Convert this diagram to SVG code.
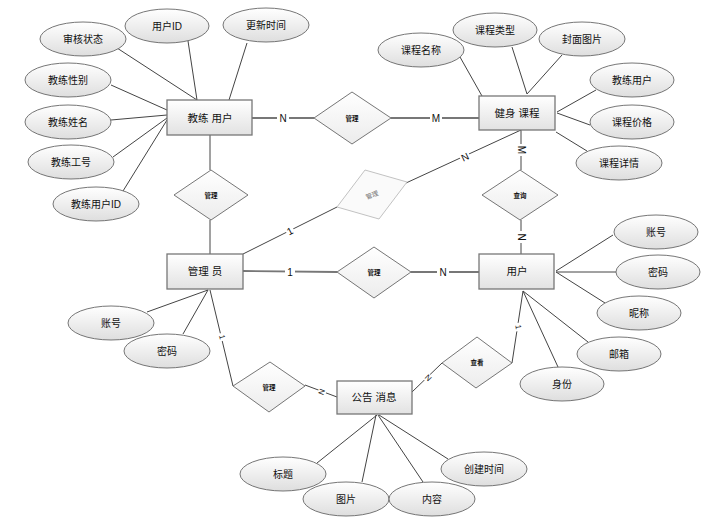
<svg xmlns="http://www.w3.org/2000/svg" width="716" height="519" viewBox="0 0 716 519">
<defs>
<linearGradient id="gE" x1="0" y1="0" x2="0" y2="1"><stop offset="0" stop-color="#ffffff"/><stop offset="1" stop-color="#dedede"/></linearGradient>
<linearGradient id="gR" x1="0" y1="0" x2="0" y2="1"><stop offset="0" stop-color="#ffffff"/><stop offset="1" stop-color="#e2e2e2"/></linearGradient>
<linearGradient id="gD" x1="0" y1="0" x2="0" y2="1"><stop offset="0" stop-color="#ffffff"/><stop offset="1" stop-color="#ececec"/></linearGradient>
</defs>
<style>
.t{font-family:"Liberation Sans","Noto Sans CJK SC",sans-serif;fill:#111;text-anchor:middle;dominant-baseline:central}
.e ellipse{fill:url(#gE);stroke:#666;stroke-width:0.9}
.e text{font-size:10px}
.r rect{fill:url(#gR);stroke:#777;stroke-width:1.3}
.r text{font-size:10.5px}
.d polygon{fill:url(#gD);stroke:#666;stroke-width:0.9}
.d text{font-size:6.5px;font-weight:bold}
.ln line{stroke:#444;stroke-width:1;fill:none}
.ln .h{stroke:#777;stroke-width:1.8}
.lb{font-family:"Liberation Sans",sans-serif;font-size:10px;fill:#111;text-anchor:middle;dominant-baseline:central}
.lbs{font-family:"Liberation Sans",sans-serif;font-size:8px;fill:#222;text-anchor:middle;dominant-baseline:central}
.bg{fill:#fff}
</style>
<g id="connectors" class="ln">
<line x1="117" y1="48" x2="197" y2="100"/>
<line x1="188" y1="41" x2="197" y2="100"/>
<line x1="247" y1="43" x2="229" y2="100"/>
<line x1="111" y1="85" x2="167" y2="110"/>
<line x1="111" y1="120" x2="167" y2="115"/>
<line x1="113" y1="157" x2="167" y2="118"/>
<line x1="123" y1="191" x2="167" y2="120"/>
<line class="h" x1="252" y1="118" x2="314" y2="118"/>
<line class="h" x1="391" y1="118" x2="479" y2="118"/>
<line x1="210" y1="135" x2="210" y2="170"/>
<line x1="210" y1="220" x2="210" y2="254"/>
<line x1="460" y1="57" x2="482" y2="96"/>
<line x1="512" y1="47" x2="527" y2="94"/>
<line x1="562" y1="55" x2="527" y2="94"/>
<line x1="596" y1="90" x2="557" y2="112"/>
<line x1="590" y1="125" x2="557" y2="113"/>
<line x1="587" y1="151" x2="556" y2="132"/>
<line x1="521" y1="130" x2="521" y2="170"/>
<line x1="521" y1="220" x2="521" y2="254"/>
<line x1="521" y1="130" x2="406" y2="183"/>
<line x1="243" y1="254" x2="337" y2="207"/>
<line class="h" x1="243" y1="271" x2="337" y2="272"/>
<line class="h" x1="411" y1="272" x2="479" y2="272"/>
<line x1="147" y1="312" x2="208" y2="290"/>
<line x1="183" y1="334" x2="208" y2="290"/>
<line x1="210" y1="290" x2="233" y2="386"/>
<line x1="305" y1="385" x2="337" y2="397"/>
<line x1="613" y1="235" x2="556" y2="271"/>
<line x1="616" y1="272" x2="556" y2="272"/>
<line x1="605" y1="303" x2="556" y2="272"/>
<line x1="588" y1="342" x2="523" y2="291"/>
<line x1="558" y1="367" x2="523" y2="291"/>
<line x1="523" y1="291" x2="512" y2="363"/>
<line x1="442" y1="363" x2="412" y2="392"/>
<line x1="317" y1="463" x2="377" y2="415"/>
<line x1="362" y1="482" x2="376" y2="415"/>
<line x1="423" y1="482" x2="378" y2="415"/>
<line x1="448" y1="459" x2="379" y2="415"/>
</g>
<g id="labels">
<rect class="bg" x="277" y="112" width="12" height="12"/>
<text class="lb" x="283" y="118">N</text>
<rect class="bg" x="430" y="112" width="12" height="12"/>
<text class="lb" x="436" y="118">M</text>
<rect class="bg" x="515" y="144" width="12" height="12"/>
<text class="lb" x="521" y="150" transform="rotate(90 521 150)">M</text>
<rect class="bg" x="515" y="231" width="12" height="12"/>
<text class="lb" x="521" y="237" transform="rotate(90 521 237)">N</text>
<rect class="bg" x="460" y="152" width="10" height="10" transform="rotate(-25 465 157)"/>
<text class="lb" x="465" y="157" transform="rotate(-25 465 157)">N</text>
<rect class="bg" x="286" y="226" width="8" height="10" transform="rotate(-27 290 231)"/>
<text class="lb" x="290" y="231" transform="rotate(-27 290 231)">1</text>
<rect class="bg" x="285" y="266" width="10" height="12"/>
<text class="lb" x="290" y="272">1</text>
<rect class="bg" x="437" y="266" width="12" height="12"/>
<text class="lb" x="443" y="272">N</text>
<rect class="bg" x="218" y="333" width="8" height="8" transform="rotate(76 222 337)"/>
<text class="lbs" x="222" y="337" transform="rotate(76 222 337)">1</text>
<rect class="bg" x="318" y="388" width="8" height="8" transform="rotate(-70 322 392)"/>
<text class="lbs" x="322" y="392" transform="rotate(-70 322 392)">N</text>
<rect class="bg" x="514" y="323" width="8" height="8" transform="rotate(80 518 327)"/>
<text class="lbs" x="518" y="327" transform="rotate(80 518 327)">1</text>
<rect class="bg" x="424" y="374" width="8" height="8" transform="rotate(45 428 378)"/>
<text class="lbs" x="428" y="378" transform="rotate(45 428 378)">N</text>
</g>
<g id="coach" class="r"><rect x="167" y="100" width="85" height="35"/><text class="t" x="210" y="118">教练 用户</text></g>
<g id="course" class="r"><rect x="479" y="96" width="76" height="34"/><text class="t" x="517" y="113">健身 课程</text></g>
<g id="admin" class="r"><rect x="167" y="254" width="76" height="35"/><text class="t" x="205" y="271">管理 员</text></g>
<g id="user" class="r"><rect x="479" y="254" width="75" height="35"/><text class="t" x="517" y="271">用户</text></g>
<g id="notice" class="r"><rect x="337" y="381" width="75" height="33"/><text class="t" x="374" y="397">公告 消息</text></g>
<g id="rel-manage-top" class="d"><polygon points="352,92 391,118 352,144 314,118"/><text class="t" x="352" y="118">管理</text></g>
<g id="rel-manage-left" class="d"><polygon points="211,170 248,195 211,220 174,195"/><text class="t" x="211" y="195">管理</text></g>
<g id="rel-query" class="d"><polygon points="520,170 558,195 520,220 482,195"/><text class="t" x="520" y="195">查询</text></g>
<g id="rel-manage-gray" class="d"><polygon points="365,170 407,182 379,219 337,207" style="stroke:#bbb;fill:#fafafa"/><text class="t" x="372" y="195" transform="rotate(-20 372 195)" style="fill:#777;font-weight:normal">管理</text></g>
<g id="rel-manage-mid" class="d"><polygon points="374,247 411,272 374,298 337,272"/><text class="t" x="374" y="272">管理</text></g>
<g id="rel-view" class="d"><polygon points="477,337 512,363 476,388 442,363"/><text class="t" x="477" y="362">查看</text></g>
<g id="rel-manage-bottom" class="d"><polygon points="270,362 305,386 269,412 233,386"/><text class="t" x="269" y="387">管理</text></g>
<g id="a-shenhe" class="e"><ellipse cx="83" cy="39" rx="43" ry="17"/><text class="t" x="83" y="39">审核状态</text></g>
<g id="a-yonghuid" class="e"><ellipse cx="167" cy="26" rx="42" ry="17"/><text class="t" x="167" y="26">用户ID</text></g>
<g id="a-gengxin" class="e"><ellipse cx="266" cy="25" rx="43" ry="17"/><text class="t" x="266" y="25">更新时间</text></g>
<g id="a-xingbie" class="e"><ellipse cx="68" cy="80" rx="43" ry="17"/><text class="t" x="68" y="80">教练性别</text></g>
<g id="a-xingming" class="e"><ellipse cx="68" cy="122" rx="43" ry="17"/><text class="t" x="68" y="122">教练姓名</text></g>
<g id="a-gonghao" class="e"><ellipse cx="71" cy="162" rx="43" ry="17"/><text class="t" x="71" y="162">教练工号</text></g>
<g id="a-coachid" class="e"><ellipse cx="96" cy="204" rx="43" ry="17"/><text class="t" x="96" y="204">教练用户ID</text></g>
<g id="a-kcmc" class="e"><ellipse cx="421" cy="50" rx="43" ry="17"/><text class="t" x="421" y="50">课程名称</text></g>
<g id="a-kclx" class="e"><ellipse cx="495" cy="30" rx="42" ry="17"/><text class="t" x="495" y="30">课程类型</text></g>
<g id="a-fmtp" class="e"><ellipse cx="582" cy="39" rx="43" ry="17"/><text class="t" x="582" y="39">封面图片</text></g>
<g id="a-jlyh" class="e"><ellipse cx="632" cy="80" rx="42" ry="17"/><text class="t" x="632" y="80">教练用户</text></g>
<g id="a-kcjg" class="e"><ellipse cx="632" cy="122" rx="42" ry="17"/><text class="t" x="632" y="122">课程价格</text></g>
<g id="a-kcxq" class="e"><ellipse cx="619" cy="163" rx="43" ry="17"/><text class="t" x="619" y="163">课程详情</text></g>
<g id="a-adm-zh" class="e"><ellipse cx="111" cy="323" rx="43" ry="17"/><text class="t" x="111" y="323">账号</text></g>
<g id="a-adm-mm" class="e"><ellipse cx="167" cy="351" rx="43" ry="17"/><text class="t" x="167" y="351">密码</text></g>
<g id="a-u-zh" class="e"><ellipse cx="656" cy="232" rx="42" ry="17"/><text class="t" x="656" y="232">账号</text></g>
<g id="a-u-mm" class="e"><ellipse cx="658" cy="272" rx="42" ry="17"/><text class="t" x="658" y="272">密码</text></g>
<g id="a-u-nc" class="e"><ellipse cx="639" cy="313" rx="42" ry="17"/><text class="t" x="639" y="313">昵称</text></g>
<g id="a-u-yx" class="e"><ellipse cx="619" cy="354" rx="42" ry="17"/><text class="t" x="619" y="354">邮箱</text></g>
<g id="a-u-sf" class="e"><ellipse cx="562" cy="384" rx="42" ry="17"/><text class="t" x="562" y="384">身份</text></g>
<g id="a-bt" class="e"><ellipse cx="283" cy="474" rx="43" ry="17"/><text class="t" x="283" y="474">标题</text></g>
<g id="a-tp" class="e"><ellipse cx="346" cy="499" rx="43" ry="17"/><text class="t" x="346" y="499">图片</text></g>
<g id="a-nr" class="e"><ellipse cx="432" cy="499" rx="43" ry="17"/><text class="t" x="432" y="499">内容</text></g>
<g id="a-cjsj" class="e"><ellipse cx="484" cy="469" rx="43" ry="17"/><text class="t" x="484" y="469">创建时间</text></g>
</svg>
